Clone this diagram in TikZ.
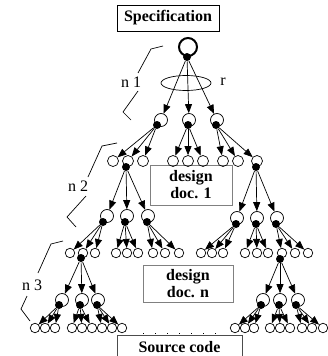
\documentclass[tikz,border=0pt]{standalone}
\usepackage{fontspec}
\setmainfont{Liberation Serif}
\usetikzlibrary{arrows.meta}

\begin{document}
\begin{tikzpicture}[x=1pt,y=-1pt,line width=0.7pt,
bub/.style={draw,circle,inner sep=0pt,minimum size=13pt},
leaf/.style={draw,circle,inner sep=0pt,minimum size=9.5pt},
pip/.style={fill,circle,inner sep=0pt,minimum size=8pt},
docbox/.style={draw=gray,fill=white,font=\fontsize{16}{17}\selectfont\bfseries,align=center},
tag/.style={font=\fontsize{16}{18}\selectfont},
arr/.style={-{Triangle[length=9pt,width=7pt]}}]
\clip (0,0) rectangle (328,356);

% document boxes
\node (spec) [docbox,draw=black,minimum width=102pt,minimum height=26pt] at (168,18) {Specification};
\node (doc1) [docbox,minimum width=82pt,minimum height=40pt] at (191,185) {design\\doc. 1};
\node (docn) [docbox,minimum width=90pt,minimum height=37pt] at (188,283.5) {design\\doc. n};
\node (src) [docbox,draw=black!70,minimum width=125pt,minimum height=24pt,anchor=north] at (179.5,335) {Source code};

% rotation and level brackets
\draw (186,83) ellipse [x radius=25pt,y radius=7.5pt];
\node (rlab) [tag] at (223,82) {r};
\draw (163,46) -- (151,49) -- (138,73);
\node (n1) [tag] at (131,82) {n 1};
\draw (138,91) -- (123,112) -- (131,120);
\draw (117,143) -- (102,146) -- (88,177);
\node (n2) [tag] at (78,186) {n 2};
\draw (86,196) -- (67,217) -- (76,227);
\draw (63,241) -- (51,244) -- (38,273);
\node (n3) [tag] at (32,285) {n 3};
\draw (27,296) -- (21,309) -- (30,321);

% root
\node (root) [draw,circle,line width=2pt,minimum size=18pt] at (188,47) {};
\node (proot) [pip] at (187,57) {};

% level 1
\foreach \i/\x/\px in {1/161/157,2/189/188,3/217/216}{
  \node (a\i) [bub] at (\x,120) {};
  \node (pa\i) [pip] at (\px,125) {};
}
\foreach \i in {1,2,3} \draw[arr] (proot) -- (a\i);

% level 2
\foreach \i/\x in {1/113,2/128,3/143,4/173,5/188,6/203,7/223,8/238,9/257}
  \node (b\i) [leaf,minimum size=11pt] at (\x,161) {};
\node (pb2) [pip] at (126,167) {};
\node (pb9) [pip] at (256,167) {};
\foreach \i in {1,2,3} \draw[arr] (pa1) -- (b\i);
\foreach \i in {4,5,6} \draw[arr] (pa2) -- (b\i);
\foreach \i in {7,8,9} \draw[arr] (pa3) -- (b\i);

% level 3
\foreach \i/\x/\px/\y in {1/107/103/216,2/127/125/216,3/148/147/216,4/237/236/218,5/257/256/218,6/277/276/218}{
  \node (c\i) [bub] at (\x,\y) {};
  \node (pc\i) [pip] at (\px,\y+6) {};
}
\foreach \i in {1,2,3} \draw[arr] (pb2) -- (c\i);
\foreach \i in {4,5,6} \draw[arr] (pb9) -- (c\i);

% level 4
\foreach \p/\xs in {1/{70,83,95},2/{116,127,138},3/{153,165,179},4/{201,212,223},5/{245,257,268},6/{282,295,308}}
  \foreach \x [count=\j] in \xs {
    \node (l\p\j) [leaf] at (\x,253) {};
    \draw[arr] (pc\p) -- (l\p\j);
  }
\node (pl12) [pip] at (81,258) {};
\node (pl61) [pip] at (280,259) {};

% level 5
\foreach \i/\x/\px in {1/62/59,2/82/80,3/98/97}{
  \node (d\i) [bub] at (\x,300) {};
  \node (pd\i) [pip] at (\px,305) {};
  \draw[arr] (pl12) -- (d\i);
}
\foreach \i/\x/\px in {1/263/261,2/280/279,3/298/296}{
  \node (e\i) [bub] at (\x,300) {};
  \node (pe\i) [pip] at (\px,305) {};
  \draw[arr] (pl61) -- (e\i);
}

% level 6
\foreach \p/\xs in {d1/{35,45,55},d2/{72,82,92},d3/{102,112,122},e1/{235,245,254},e2/{270,280,290},e3/{302,312,323}}
  \foreach \x [count=\j] in \xs {
    \node (\p l\j) [leaf] at (\x,328) {};
    \draw[arr] (p\p) -- (\p l\j);
  }
\draw[line width=1pt,dash pattern=on 1pt off 11pt] (143,333) -- (226,333);

\end{tikzpicture}
\end{document}
